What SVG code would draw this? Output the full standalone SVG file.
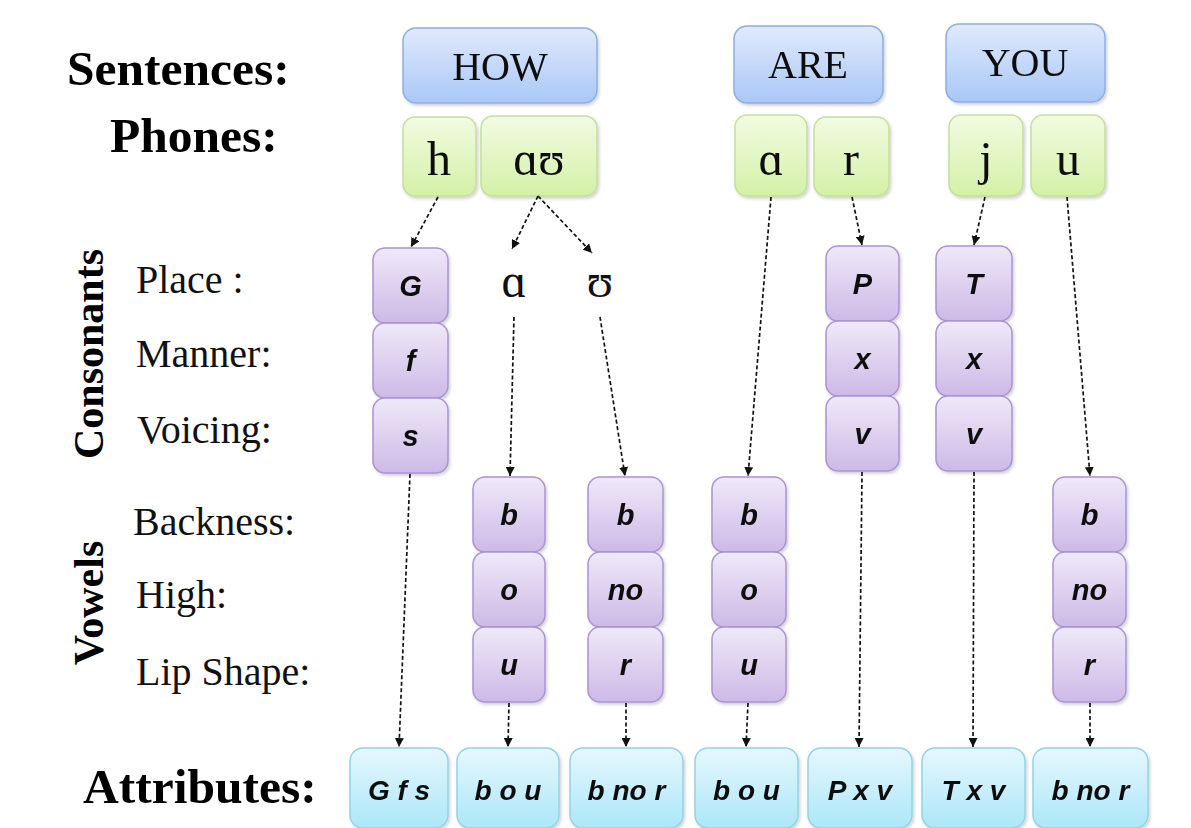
<svg xmlns="http://www.w3.org/2000/svg" width="1191" height="828" viewBox="0 0 1191 828">
<style>
.lbl{font-family:"Liberation Serif","Times New Roman",serif;font-weight:bold;font-size:49.5px;fill:#000}
.side{font-family:"Liberation Serif","Times New Roman",serif;font-size:40px;fill:#111}
.vert{font-family:"Liberation Serif","Times New Roman",serif;font-weight:bold;font-size:42px;fill:#000}
.word{font-family:"Liberation Serif","Times New Roman",serif;font-size:40px;fill:#111;text-anchor:middle}
.phone{font-family:"Liberation Serif","DejaVu Serif",serif;font-size:48px;fill:#111;text-anchor:middle}
.feat{font-family:"Liberation Sans",Arial,sans-serif;font-weight:bold;font-style:italic;font-size:29px;fill:#111;text-anchor:middle}
.attr{font-family:"Liberation Sans",Arial,sans-serif;font-weight:bold;font-style:italic;font-size:28px;fill:#111;text-anchor:middle}
.sb{fill:url(#gBlue);stroke:#8eaee0;stroke-width:1.5}
.pb{fill:url(#gGreen);stroke:#c4de9c;stroke-width:1.5}
.fb{fill:url(#gPurple);stroke:#ab93d2;stroke-width:1.5}
.ab{fill:url(#gCyan);stroke:#94d2e4;stroke-width:1.5}
.con line{stroke:#111;stroke-width:1.7;stroke-dasharray:4 2.5;marker-end:url(#arr)}
</style>
<defs>
<linearGradient id="gBlue" x1="0" y1="0" x2="0" y2="1"><stop offset="0" stop-color="#e0eafc"/><stop offset="1" stop-color="#a9c7f6"/></linearGradient>
<linearGradient id="gGreen" x1="0" y1="0" x2="0" y2="1"><stop offset="0" stop-color="#f2fbe2"/><stop offset="1" stop-color="#d3f1a6"/></linearGradient>
<linearGradient id="gPurple" x1="0" y1="0" x2="0" y2="1"><stop offset="0" stop-color="#efe9f8"/><stop offset="1" stop-color="#cdb9e7"/></linearGradient>
<linearGradient id="gCyan" x1="0" y1="0" x2="0" y2="1"><stop offset="0" stop-color="#e6f7fd"/><stop offset="1" stop-color="#ace7f8"/></linearGradient>
<filter id="sh" x="-10%" y="-10%" width="130%" height="130%"><feDropShadow dx="1.5" dy="2" stdDeviation="1.5" flood-color="#000" flood-opacity="0.18"/></filter>
<marker id="arr" viewBox="0 0 10 10" refX="10" refY="5" markerWidth="9" markerHeight="9" markerUnits="userSpaceOnUse" orient="auto"><path d="M0,0 L10,5 L0,10 z" fill="#111"/></marker>
</defs>
<rect width="1191" height="828" fill="#fff"/>

<g id="row-labels">
<text class="lbl" x="67" y="85">Sentences:</text>
<text class="lbl" x="110" y="152">Phones:</text>
<text class="lbl" x="83" y="803">Attributes:</text>
<text class="side" x="136" y="293">Place :</text>
<text class="side" x="136" y="367">Manner:</text>
<text class="side" x="137" y="443">Voicing:</text>
<text class="side" x="133" y="535">Backness:</text>
<text class="side" x="136" y="608">High:</text>
<text class="side" x="136" y="685">Lip Shape:</text>
<text class="vert" transform="translate(103,354) rotate(-90)" text-anchor="middle">Consonants</text>
<text class="vert" transform="translate(103,603) rotate(-90)" text-anchor="middle">Vowels</text>
</g>

<g id="sentences" filter="url(#sh)">
<g id="s-how"><rect class="sb" x="403" y="28" width="194" height="75" rx="13"/><text class="word" x="500" y="80">HOW</text></g>
<g id="s-are"><rect class="sb" x="734" y="26" width="149" height="77" rx="13"/><text class="word" x="808" y="78">ARE</text></g>
<g id="s-you"><rect class="sb" x="946" y="24" width="159" height="78" rx="13"/><text class="word" x="1025" y="76">YOU</text></g>
</g>

<g id="phones" filter="url(#sh)">
<g id="p-h"><rect class="pb" x="403" y="117" width="73" height="79" rx="12"/><text class="phone" x="439" y="175">h</text></g>
<g id="p-au"><rect class="pb" x="481" y="116" width="116" height="80" rx="12"/><text class="phone" x="539" y="175">ɑʊ</text></g>
<g id="p-a"><rect class="pb" x="735" y="115" width="72" height="81" rx="12"/><text class="phone" x="771" y="175">ɑ</text></g>
<g id="p-r"><rect class="pb" x="814" y="117" width="75" height="79" rx="12"/><text class="phone" x="851" y="175">r</text></g>
<g id="p-j"><rect class="pb" x="949" y="115" width="74" height="81" rx="12"/><text class="phone" x="986" y="175">j</text></g>
<g id="p-u"><rect class="pb" x="1031" y="115" width="74" height="81" rx="12"/><text class="phone" x="1068" y="175">u</text></g>
</g>

<g id="split-phones">
<text class="phone" x="514" y="297">ɑ</text>
<text class="phone" x="600" y="297">ʊ</text>
</g>

<g id="features" filter="url(#sh)">
<g id="f-h">
<rect class="fb" x="373" y="248" width="75" height="75" rx="12"/><text class="feat" x="410.5" y="296">G</text>
<rect class="fb" x="373" y="323" width="75" height="75" rx="12"/><text class="feat" x="410.5" y="371">f</text>
<rect class="fb" x="373" y="398" width="75" height="75" rx="12"/><text class="feat" x="410.5" y="446">s</text>
</g>
<g id="f-r">
<rect class="fb" x="826" y="246" width="73" height="75" rx="12"/><text class="feat" x="862.5" y="294">P</text>
<rect class="fb" x="826" y="321" width="73" height="75" rx="12"/><text class="feat" x="862.5" y="369">x</text>
<rect class="fb" x="826" y="396" width="73" height="75" rx="12"/><text class="feat" x="862.5" y="444">v</text>
</g>
<g id="f-j">
<rect class="fb" x="936" y="246" width="76" height="75" rx="12"/><text class="feat" x="974" y="294">T</text>
<rect class="fb" x="936" y="321" width="76" height="75" rx="12"/><text class="feat" x="974" y="369">x</text>
<rect class="fb" x="936" y="396" width="76" height="75" rx="12"/><text class="feat" x="974" y="444">v</text>
</g>
<g id="f-a1">
<rect class="fb" x="473" y="477" width="72" height="75" rx="12"/><text class="feat" x="509" y="525">b</text>
<rect class="fb" x="473" y="552" width="72" height="75" rx="12"/><text class="feat" x="509" y="600">o</text>
<rect class="fb" x="473" y="627" width="72" height="75" rx="12"/><text class="feat" x="509" y="675">u</text>
</g>
<g id="f-u1">
<rect class="fb" x="588" y="477" width="75" height="75" rx="12"/><text class="feat" x="625.5" y="525">b</text>
<rect class="fb" x="588" y="552" width="75" height="75" rx="12"/><text class="feat" x="625.5" y="600">no</text>
<rect class="fb" x="588" y="627" width="75" height="75" rx="12"/><text class="feat" x="625.5" y="675">r</text>
</g>
<g id="f-a2">
<rect class="fb" x="712" y="477" width="74" height="75" rx="12"/><text class="feat" x="749" y="525">b</text>
<rect class="fb" x="712" y="552" width="74" height="75" rx="12"/><text class="feat" x="749" y="600">o</text>
<rect class="fb" x="712" y="627" width="74" height="75" rx="12"/><text class="feat" x="749" y="675">u</text>
</g>
<g id="f-u2">
<rect class="fb" x="1053" y="477" width="73" height="75" rx="12"/><text class="feat" x="1089.5" y="525">b</text>
<rect class="fb" x="1053" y="552" width="73" height="75" rx="12"/><text class="feat" x="1089.5" y="600">no</text>
<rect class="fb" x="1053" y="627" width="73" height="75" rx="12"/><text class="feat" x="1089.5" y="675">r</text>
</g>
</g>

<g id="attributes" filter="url(#sh)">
<g id="a1"><rect class="ab" x="350" y="748" width="98" height="80" rx="13"/><text class="attr" x="399" y="800">G f s</text></g>
<g id="a2"><rect class="ab" x="457" y="748" width="102" height="80" rx="13"/><text class="attr" x="508" y="800">b o u</text></g>
<g id="a3"><rect class="ab" x="570" y="748" width="113" height="80" rx="13"/><text class="attr" x="626.5" y="800">b no r</text></g>
<g id="a4"><rect class="ab" x="695" y="748" width="103" height="80" rx="13"/><text class="attr" x="746.5" y="800">b o u</text></g>
<g id="a5"><rect class="ab" x="808" y="748" width="104" height="80" rx="13"/><text class="attr" x="860" y="800">P x v</text></g>
<g id="a6"><rect class="ab" x="922" y="748" width="103" height="80" rx="13"/><text class="attr" x="973.5" y="800">T x v</text></g>
<g id="a7"><rect class="ab" x="1033" y="748" width="115" height="80" rx="13"/><text class="attr" x="1090.5" y="800">b no r</text></g>
</g>

<g id="connectors" class="con">
<line x1="438" y1="197" x2="411" y2="247"/>
<line x1="538" y1="196" x2="512" y2="249"/>
<line x1="538" y1="196" x2="592" y2="253"/>
<line x1="514" y1="317" x2="510" y2="476"/>
<line x1="600" y1="317" x2="625" y2="476"/>
<line x1="410" y1="474" x2="399" y2="747"/>
<line x1="509" y1="703" x2="508" y2="747"/>
<line x1="626" y1="703" x2="626" y2="747"/>
<line x1="771" y1="197" x2="748" y2="476"/>
<line x1="748" y1="703" x2="746" y2="747"/>
<line x1="852" y1="197" x2="862" y2="245"/>
<line x1="862" y1="472" x2="859" y2="747"/>
<line x1="985" y1="197" x2="974" y2="245"/>
<line x1="974" y1="472" x2="973" y2="747"/>
<line x1="1067" y1="197" x2="1090" y2="476"/>
<line x1="1090" y1="703" x2="1090" y2="747"/>
</g>
</svg>
